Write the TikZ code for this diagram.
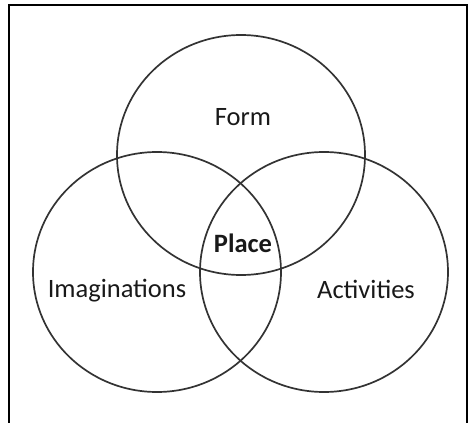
\documentclass[tikz,border=0pt]{standalone}
\usepackage{fontspec}
\setmainfont{Carlito}
\begin{document}
\begin{tikzpicture}[x=1pt,y=-1pt,
  ring/.style={draw=black!80,line width=1.7pt},
  frameline/.style={draw=black,line width=1.4pt},
  lbl/.style={font=\fontsize{26.5}{30}\selectfont,text=black!90,anchor=base,inner sep=0pt}]
\useasboundingbox (0,0) rectangle (469,423);
\coordinate (fl) at (9,423);
\coordinate (ftl) at (9,5);
\coordinate (ftr) at (467,5);
\coordinate (fr) at (467,423);
\draw[frameline] (fl) -- (ftl) -- (ftr) -- (fr);
\draw[ring] (241,155) ellipse [x radius=124, y radius=120];
\draw[ring] (157,272) ellipse [x radius=124, y radius=120];
\draw[ring] (324,272) ellipse [x radius=124, y radius=120];
\node[lbl] (form) at (243,125) {Form};
\node[lbl,font=\fontsize{26.5}{30}\selectfont\bfseries] (place) at (243,252) {Place};
\node[lbl] (imag) at (117,297) {Imaginations};
\node[lbl] (act) at (366,298) {Activities};
\end{tikzpicture}
\end{document}
